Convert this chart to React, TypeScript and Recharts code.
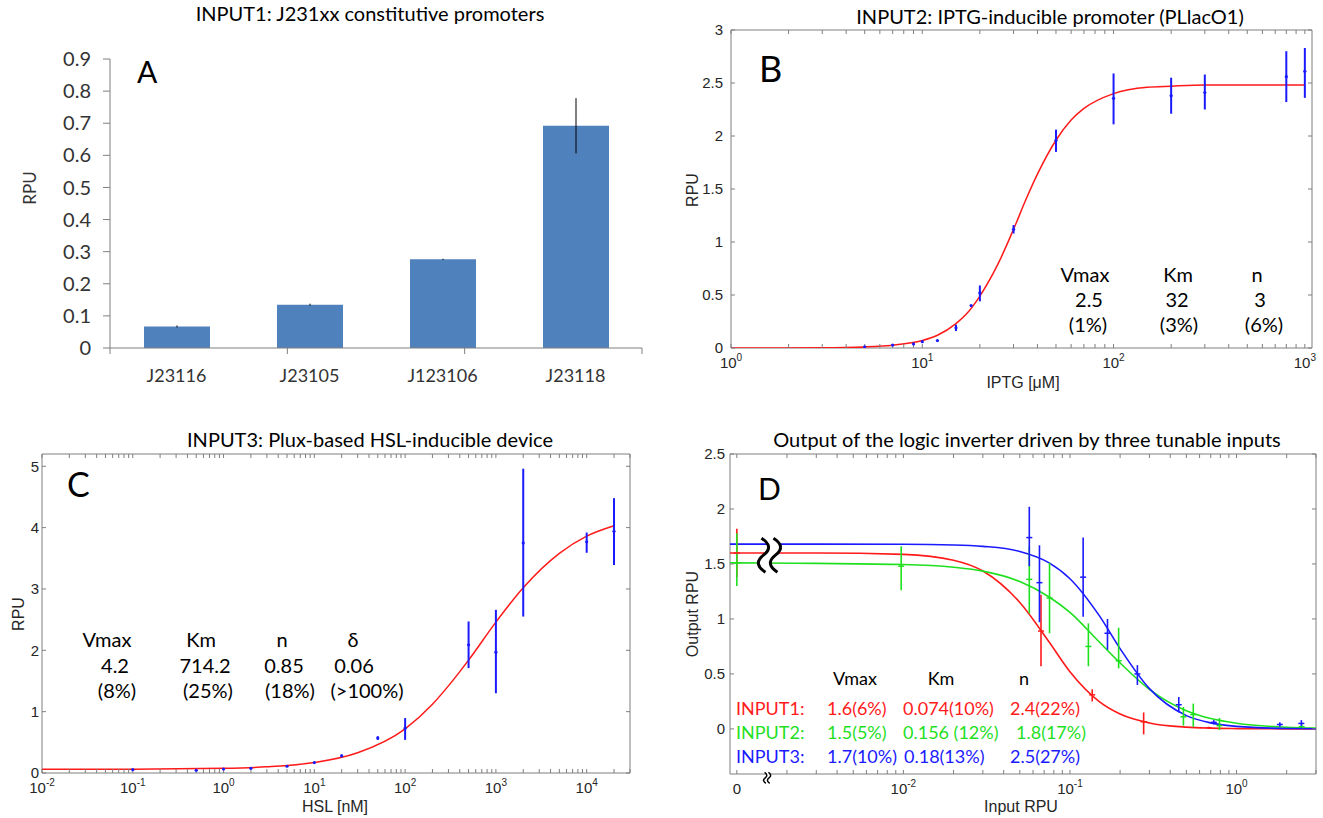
import React from 'react';
import {
  BarChart,
  Bar,
  ComposedChart,
  Line,
  Scatter,
  XAxis,
  YAxis,
  ErrorBar,
  ReferenceDot,
  ReferenceArea,
} from 'recharts';

// ---------- panel A: constitutive promoters ----------
const A_CATEGORIES = ['J23116', 'J23105', 'J123106', 'J23118'];
const A_RPU = [0.067, 0.135, 0.276, 0.692];
const A_ERR = [0.003, 0.003, 0.002, 0.086];
const A_Y_TICKS = [0, 0.1, 0.2, 0.3, 0.4, 0.5, 0.6, 0.7, 0.8, 0.9];
const A_BOUNDARIES = [0, 1, 2, 3, 4];

// ---------- panel B: IPTG-inducible promoter ----------
const B_IPTG = [5, 7, 9, 10, 12, 15, 18, 20, 30, 50, 100, 200, 300, 800, 1000];
const B_RPU = [0.012, 0.028, 0.038, 0.06, 0.07, 0.19, 0.4, 0.52, 1.12, 1.96, 2.355, 2.38, 2.41, 2.56, 2.61];
const B_LO = [0.012, 0.028, 0.038, 0.06, 0.07, 0.16, 0.4, 0.44, 1.08, 1.85, 2.11, 2.21, 2.25, 2.32, 2.36];
const B_HI = [0.012, 0.028, 0.038, 0.06, 0.07, 0.22, 0.4, 0.59, 1.16, 2.06, 2.59, 2.55, 2.58, 2.8, 2.83];
const B_FIT_X = [1, 3, 5, 7, 10, 12, 15, 17, 20, 25, 30, 35, 40, 50, 60, 70, 100, 150, 200, 300, 1000];
const B_FIT_Y = [0, 0.002, 0.01, 0.026, 0.07, 0.12, 0.23, 0.32, 0.49, 0.8, 1.12, 1.41, 1.64, 1.96, 2.15, 2.26, 2.4, 2.46, 2.47, 2.48, 2.48];
const B_X_MAJORS = [1, 10, 100, 1000];
const B_X_LABELS: [string, string][] = [['10', '0'], ['10', '1'], ['10', '2'], ['10', '3']];
const B_Y_TICKS = [0, 0.5, 1, 1.5, 2, 2.5, 3];

// ---------- panel C: HSL-inducible device ----------
const C_HSL = [0.1, 0.5, 1, 2, 5, 10, 20, 50, 100, 500, 1000, 2000, 10000, 20000];
const C_RPU = [0.054, 0.043, 0.065, 0.076, 0.11, 0.17, 0.28, 0.57, 0.73, 2.09, 1.97, 3.75, 3.77, 3.94];
const C_LO = [0.054, 0.043, 0.065, 0.076, 0.11, 0.16, 0.26, 0.54, 0.54, 1.71, 1.3, 2.55, 3.59, 3.39];
const C_HI = [0.054, 0.043, 0.065, 0.076, 0.11, 0.18, 0.3, 0.6, 0.895, 2.47, 2.66, 4.96, 3.92, 4.48];
const C_FIT_X = [0.01, 0.1, 1, 3, 10, 30, 100, 200, 300, 500, 1000, 2000, 5000, 10000, 20000];
const C_FIT_Y = [0.06, 0.062, 0.076, 0.1, 0.17, 0.33, 0.72, 1.12, 1.42, 1.84, 2.46, 3.02, 3.58, 3.86, 4.03];
const C_X_MAJORS = [0.01, 0.1, 1, 10, 100, 1000, 10000];
const C_X_LABELS: [string, string][] = [['10', '-2'], ['10', '-1'], ['10', '0'], ['10', '1'], ['10', '2'], ['10', '3'], ['10', '4']];
const C_Y_TICKS = [0, 1, 2, 3, 4, 5];

// ---------- panel D: inverter output ----------
const D_ZERO = 0.001; // where an input of 0 is drawn on the broken log axis
const D_RED_X = [D_ZERO, 0.067, 0.136, 0.277, 0.68];
const D_RED_Y = [1.6, 0.89, 0.31, 0.065, 0.01];
const D_RED_LO = [1.38, 0.57, 0.25, -0.05, 0.0];
const D_RED_HI = [1.82, 1.22, 0.36, 0.15, 0.02];
const D_GREEN_X = [D_ZERO, 0.0097, 0.057, 0.0754, 0.129, 0.196, 0.48, 0.55, 0.79, 2.46];
const D_GREEN_Y = [1.51, 1.48, 1.36, 1.19, 0.75, 0.62, 0.11, 0.13, 0.03, 0.02];
const D_GREEN_LO = [1.3, 1.26, 1.05, 0.87, 0.57, 0.55, 0.03, 0.02, -0.01, 0.0];
const D_GREEN_HI = [1.78, 1.66, 1.66, 1.51, 0.96, 0.92, 0.2, 0.23, 0.1, 0.05];
const D_BLUE_X = [0.057, 0.0656, 0.12, 0.168, 0.254, 0.45, 0.73, 1.82, 2.45];
const D_BLUE_Y = [1.74, 1.33, 1.38, 0.87, 0.5, 0.22, 0.06, 0.04, 0.05];
const D_BLUE_LO = [1.48, 0.97, 1.02, 0.72, 0.4, 0.15, 0.04, 0.02, 0.0];
const D_BLUE_HI = [2.02, 1.67, 1.74, 1.0, 0.58, 0.29, 0.08, 0.06, 0.08];
const D_FIT_X = [0.00091, 0.001, 0.003, 0.01, 0.02, 0.03, 0.05, 0.075, 0.1, 0.15, 0.2, 0.3, 0.5, 0.7, 1, 2, 3];
const D_FIT_RED = [1.6, 1.6, 1.6, 1.587, 1.534, 1.436, 1.15, 0.79, 0.52, 0.248, 0.135, 0.054, 0.016, 0.007, 0.003, 0.0, 0.0];
const D_FIT_GREEN = [1.51, 1.51, 1.505, 1.495, 1.47, 1.435, 1.34, 1.2, 1.06, 0.79, 0.6, 0.36, 0.165, 0.094, 0.052, 0.015, 0.007];
const D_FIT_BLUE = [1.68, 1.68, 1.68, 1.679, 1.673, 1.66, 1.614, 1.51, 1.366, 1.03, 0.73, 0.366, 0.121, 0.055, 0.023, 0.004, 0.002];
const D_X_MAJORS = [D_ZERO, 0.01, 0.1, 1];
const D_X_LABELS: [string, string][] = [['0', ''], ['10', '-2'], ['10', '-1'], ['10', '0']];
const D_Y_TICKS = [0, 0.5, 1, 1.5, 2, 2.5];

// ---------- styling ----------
const SANS = "'Liberation Sans', Arial, sans-serif";
const CAL = "Lato, 'Open Sans', sans-serif";
const GRAY = '#7f7f7f';
const INK = '#262626';
const RED = '#ff1a1a';
const GREEN = '#1fe01f';
const BLUE = '#1a1aff';

const aData = A_CATEGORIES.map((name, i) => ({ name, rpu: A_RPU[i], err: A_ERR[i] }));

const points = (xs: number[], ys: number[], lo: number[], hi: number[]) =>
  xs.map((x, i) => ({ x, y: ys[i], err: [ys[i] - lo[i], hi[i] - ys[i]] }));
const curve = (xs: number[], ys: number[]) => xs.map((x, i) => ({ x, y: ys[i] }));

// major + minor positions of a log axis
function logTicks(fromExp: number, toExp: number, max: number) {
  const out: number[] = [];
  for (let d = fromExp; d <= toExp; d++) {
    for (let k = 1; k < 10; k++) {
      const v = k * Math.pow(10, d);
      if (v <= max * 1.0001) out.push(v);
    }
  }
  return out;
}

const makeLogTick = (majors: number[], labels: [string, string][]) => (props: any) => {
  const { x, y, payload } = props;
  const i = majors.findIndex((m) => Math.abs(m - payload.value) <= m * 1e-6);
  if (i < 0) return <g />;
  const [base, exp] = labels[i];
  return (
    <text x={x} y={y + 20} textAnchor="middle" fontSize={15} fill={INK} fontFamily={SANS}>
      {base}
      {exp ? <tspan dy={-7} fontSize={10}>{exp}</tspan> : null}
    </text>
  );
};

const emptyTick = () => <g />;

const dot = (color: string) => (p: any) => <circle cx={p.cx} cy={p.cy} r={1.6} fill={color} />;
const dash = (color: string) => (p: any) => (
  <line x1={p.cx - 3} x2={p.cx + 3} y1={p.cy} y2={p.cy} stroke={color} strokeWidth={1.5} />
);

// MATLAB-like box: labelled bottom/left axes, mirrored copies on all four sides for the inward ticks
function frame(xDomain: [number, number], xTicks: number[], xTick: any, yDomain: [number, number], yTicks: number[], yWidth: number, yMargin: number) {
  const line = { stroke: GRAY };
  const xs = { dataKey: 'x', type: 'number' as const, scale: 'log' as const, domain: xDomain, ticks: xTicks, interval: 0 as const, allowDataOverflow: true };
  const ys = { type: 'number' as const, domain: yDomain, ticks: yTicks, interval: 0 as const, allowDataOverflow: true };
  return [
    <XAxis key="xb" {...xs} tick={xTick} tickLine={false} axisLine={false} tickSize={0} tickMargin={0} height={30} />,
    <XAxis key="xbm" xAxisId="bm" {...xs} mirror tick={emptyTick} tickLine={line} axisLine={false} tickSize={4} height={20} />,
    <XAxis key="xt" xAxisId="top" orientation="top" {...xs} mirror tick={emptyTick} tickLine={line} axisLine={false} tickSize={4} height={20} />,
    <YAxis key="yl" dataKey="y" {...ys} width={yWidth} tickLine={false} axisLine={false} tickSize={0} tickMargin={yMargin} tick={{ fontSize: 15, fill: INK, fontFamily: SANS }} />,
    <YAxis key="ylm" yAxisId="lm" {...ys} mirror tick={emptyTick} tickLine={line} axisLine={false} tickSize={4} width={20} />,
    <YAxis key="yr" yAxisId="right" orientation="right" {...ys} mirror tick={emptyTick} tickLine={line} axisLine={false} tickSize={4} width={20} />,
    <ReferenceArea key="box" x1={xDomain[0]} x2={xDomain[1]} y1={yDomain[0]} y2={yDomain[1]} fill="none" fillOpacity={0} stroke={GRAY} strokeWidth={1} ifOverflow="visible" />,
  ];
}

const squiggle = (scale: number) => (p: any) => {
  const { cx, cy } = p;
  const s = scale;
  const left = `M${-8 * s},${-17 * s} C0,${-12 * s} ${2 * s},${-6 * s} ${-6 * s},0 C${-14 * s},${6 * s} ${-12 * s},${12 * s} ${-4 * s},${17 * s}`;
  const right = `M${4 * s},${-17 * s} C${12 * s},${-12 * s} ${14 * s},${-6 * s} ${6 * s},0 C${-2 * s},${6 * s} 0,${12 * s} ${8 * s},${17 * s}`;
  const fill = `${left} L${8 * s},${17 * s} C0,${12 * s} ${-2 * s},${6 * s} ${6 * s},0 C${14 * s},${-6 * s} ${12 * s},${-12 * s} ${4 * s},${-17 * s} Z`;
  return (
    <g transform={`translate(${cx},${cy})`}>
      <path d={fill} fill="#fff" stroke="none" />
      <path d={left} fill="none" stroke="#000" strokeWidth={3 * Math.max(s, 0.5)} />
      <path d={right} fill="none" stroke="#000" strokeWidth={3 * Math.max(s, 0.5)} />
    </g>
  );
};

function PanelA() {
  return (
    <BarChart width={660} height={400} data={aData} margin={{ top: 59, right: 18, bottom: 12, left: 0 }}>
      {/* category boundary ticks, stacked nearest the plot */}
      <XAxis
        xAxisId="a_bounds"
        type="number"
        domain={[0, 4]}
        ticks={A_BOUNDARIES}
        interval={0}
        height={8}
        tickSize={6}
        tick={emptyTick}
        tickLine={{ stroke: GRAY }}
        axisLine={{ stroke: GRAY }}
      />
      <XAxis xAxisId="b_cats" dataKey="name" height={32} tickLine={false} axisLine={false} tickSize={0} tick={{ fontSize: 18, fill: '#333', fontFamily: CAL }} tickMargin={13} interval={0} />
      <YAxis
        width={110}
        domain={[0, 0.9]}
        ticks={A_Y_TICKS}
        tickSize={7}
        tickMargin={12}
        interval={0}
        axisLine={{ stroke: GRAY }}
        tickLine={{ stroke: GRAY }}
        tick={{ fontSize: 20, fill: '#333', fontFamily: CAL }}
      />
      <Bar xAxisId="b_cats" dataKey="rpu" fill="#4f81bd" barSize={66} isAnimationActive={false}>
        <ErrorBar dataKey="err" direction="y" width={0} stroke="#000" strokeWidth={1} />
      </Bar>
    </BarChart>
  );
}

function PanelB() {
  const ticks = logTicks(0, 3, 1000);
  return (
    <ComposedChart width={663} height={400} margin={{ top: 30, right: 11, bottom: 22, left: 0 }}>
      {frame([1, 1090], ticks, makeLogTick(B_X_MAJORS, B_X_LABELS), [0, 3], B_Y_TICKS, 71, 8)}
      <Line data={curve(B_FIT_X, B_FIT_Y)} dataKey="y" type="monotone" stroke={RED} strokeWidth={1.5} dot={false} isAnimationActive={false} />
      <Scatter data={points(B_IPTG, B_RPU, B_LO, B_HI)} dataKey="y" fill={BLUE} shape={dot(BLUE)} isAnimationActive={false}>
        <ErrorBar dataKey="err" direction="y" width={0} stroke={BLUE} strokeWidth={2} />
      </Scatter>
    </ComposedChart>
  );
}

function PanelC() {
  const ticks = logTicks(-2, 4, 30000);
  return (
    <ComposedChart width={660} height={418} margin={{ top: 54, right: 30, bottom: 15, left: 0 }}>
      {frame([0.01, 30000], ticks, makeLogTick(C_X_MAJORS, C_X_LABELS), [0, 5.2], C_Y_TICKS, 42, 3)}
      <Line data={curve(C_FIT_X, C_FIT_Y)} dataKey="y" type="monotone" stroke={RED} strokeWidth={1.5} dot={false} isAnimationActive={false} />
      <Scatter data={points(C_HSL, C_RPU, C_LO, C_HI)} dataKey="y" fill={BLUE} shape={dot(BLUE)} isAnimationActive={false}>
        <ErrorBar dataKey="err" direction="y" width={0} stroke={BLUE} strokeWidth={2} />
      </Scatter>
    </ComposedChart>
  );
}

function PanelD() {
  const ticks = logTicks(-3, 0, 3);
  const series = [
    { fit: D_FIT_RED, xs: D_RED_X, ys: D_RED_Y, lo: D_RED_LO, hi: D_RED_HI, color: RED },
    { fit: D_FIT_GREEN, xs: D_GREEN_X, ys: D_GREEN_Y, lo: D_GREEN_LO, hi: D_GREEN_HI, color: GREEN },
    { fit: D_FIT_BLUE, xs: D_BLUE_X, ys: D_BLUE_Y, lo: D_BLUE_LO, hi: D_BLUE_HI, color: BLUE },
  ];
  return (
    <ComposedChart width={663} height={418} margin={{ top: 54, right: 7, bottom: 14, left: 0 }}>
      {frame([0.00091, 3], ticks, makeLogTick(D_X_MAJORS, D_X_LABELS), [-0.41, 2.5], D_Y_TICKS, 70, 5)}
      {series.map((s, i) => (
        <Line key={`l${i}`} data={curve(D_FIT_X, s.fit)} dataKey="y" type="monotone" stroke={s.color} strokeWidth={1.6} dot={false} isAnimationActive={false} />
      ))}
      {series.map((s, i) => (
        <Scatter key={`s${i}`} data={points(s.xs, s.ys, s.lo, s.hi)} dataKey="y" fill={s.color} shape={dash(s.color)} isAnimationActive={false}>
          <ErrorBar dataKey="err" direction="y" width={0} stroke={s.color} strokeWidth={1.6} />
        </Scatter>
      ))}
      <ReferenceDot x={0.00157} y={1.58} r={0} shape={squiggle(1)} ifOverflow="visible" />
      <ReferenceDot x={0.00152} y={-0.445} r={0} shape={squiggle(0.32)} ifOverflow="visible" />
    </ComposedChart>
  );
}

function Overlay() {
  const rot = (x: number, y: number) => `rotate(-90 ${x} ${y})`;
  return (
    <svg width={1323} height={818} style={{ position: 'absolute', left: 0, top: 0, pointerEvents: 'none' }}>
      <g fontFamily={CAL} fill="#000">
        <text x={370} y={21} textAnchor="middle" fontSize={20}>INPUT1: J231xx constitutive promoters</text>
        <text x={1050} y={24} textAnchor="middle" fontSize={20}>INPUT2: IPTG-inducible promoter (PLlacO1)</text>
        <text x={370} y={447} textAnchor="middle" fontSize={20}>INPUT3: Plux-based HSL-inducible device</text>
        <text x={1027} y={447} textAnchor="middle" fontSize={20}>Output of the logic inverter driven by three tunable inputs</text>

        <text x={137} y={83} fontSize={30}>A</text>
        <text x={759} y={82} fontSize={36}>B</text>
        <text x={67} y={497} fontSize={34}>C</text>
        <text x={758} y={500} fontSize={30}>D</text>

        <text x={29} y={188} transform={rot(29, 188)} textAnchor="middle" dominantBaseline="central" fontSize={17} fill="#333">RPU</text>

        {/* panel B fit parameters */}
        <g fontSize={20} textAnchor="middle">
          <text x={1085} y={282}>Vmax</text>
          <text x={1089} y={307}>2.5</text>
          <text x={1088} y={332}>(1%)</text>
          <text x={1178} y={282}>Km</text>
          <text x={1177} y={307}>32</text>
          <text x={1179} y={332}>(3%)</text>
          <text x={1257} y={282}>n</text>
          <text x={1260} y={307}>3</text>
          <text x={1264} y={332}>(6%)</text>
        </g>

        {/* panel C fit parameters */}
        <g fontSize={20} textAnchor="middle">
          <text x={107} y={647}>Vmax</text>
          <text x={115} y={673}>4.2</text>
          <text x={117} y={698}>(8%)</text>
          <text x={201} y={647}>Km</text>
          <text x={205} y={673}>714.2</text>
          <text x={208} y={698}>(25%)</text>
          <text x={282} y={647}>n</text>
          <text x={284} y={673}>0.85</text>
          <text x={290} y={698}>(18%)</text>
          <text x={353} y={647}>δ</text>
          <text x={354} y={673}>0.06</text>
          <text x={367} y={698}>(&gt;100%)</text>
        </g>

        {/* panel D fit parameters */}
        <g fontSize={18}>
          <text x={855} y={685} textAnchor="middle">Vmax</text>
          <text x={941} y={685} textAnchor="middle">Km</text>
          <text x={1024} y={685} textAnchor="middle">n</text>
          <g fill={RED}>
            <text x={736} y={715}>INPUT1:</text>
            <text x={827} y={715}>1.6(6%)</text>
            <text x={903} y={715}>0.074(10%)</text>
            <text x={1010} y={715}>2.4(22%)</text>
          </g>
          <g fill={GREEN}>
            <text x={736} y={739}>INPUT2:</text>
            <text x={827} y={739}>1.5(5%)</text>
            <text x={903} y={739}>0.156 (12%)</text>
            <text x={1016} y={739}>1.8(17%)</text>
          </g>
          <g fill={BLUE}>
            <text x={736} y={763}>INPUT3:</text>
            <text x={827} y={763}>1.7(10%)</text>
            <text x={904} y={763}>0.18(13%)</text>
            <text x={1010} y={763}>2.5(27%)</text>
          </g>
        </g>
      </g>

      <g fontFamily={SANS} fill={INK} fontSize={16}>
        <text x={692} y={190} transform={rot(692, 190)} textAnchor="middle" dominantBaseline="central">RPU</text>
        <text x={1023} y={382} textAnchor="middle" dominantBaseline="central">IPTG [μM]</text>
        <text x={18} y={614} transform={rot(18, 614)} textAnchor="middle" dominantBaseline="central">RPU</text>
        <text x={335} y={806} textAnchor="middle" dominantBaseline="central">HSL [nM]</text>
        <text x={692} y={614} transform={rot(692, 614)} textAnchor="middle" dominantBaseline="central">Output RPU</text>
        <text x={1021} y={806} textAnchor="middle" dominantBaseline="central">Input RPU</text>
      </g>
    </svg>
  );
}

export default function App() {
  const place = (left: number, top: number): React.CSSProperties => ({ position: 'absolute', left, top });
  return (
    <div style={{ position: 'absolute', left: 0, top: 0, width: 1323, height: 818, background: '#fff', overflow: 'hidden', fontFamily: SANS }}>
      <div style={place(0, 0)}><PanelA /></div>
      <div style={place(660, 0)}><PanelB /></div>
      <div style={place(0, 400)}><PanelC /></div>
      <div style={place(660, 400)}><PanelD /></div>
      <Overlay />
    </div>
  );
}
